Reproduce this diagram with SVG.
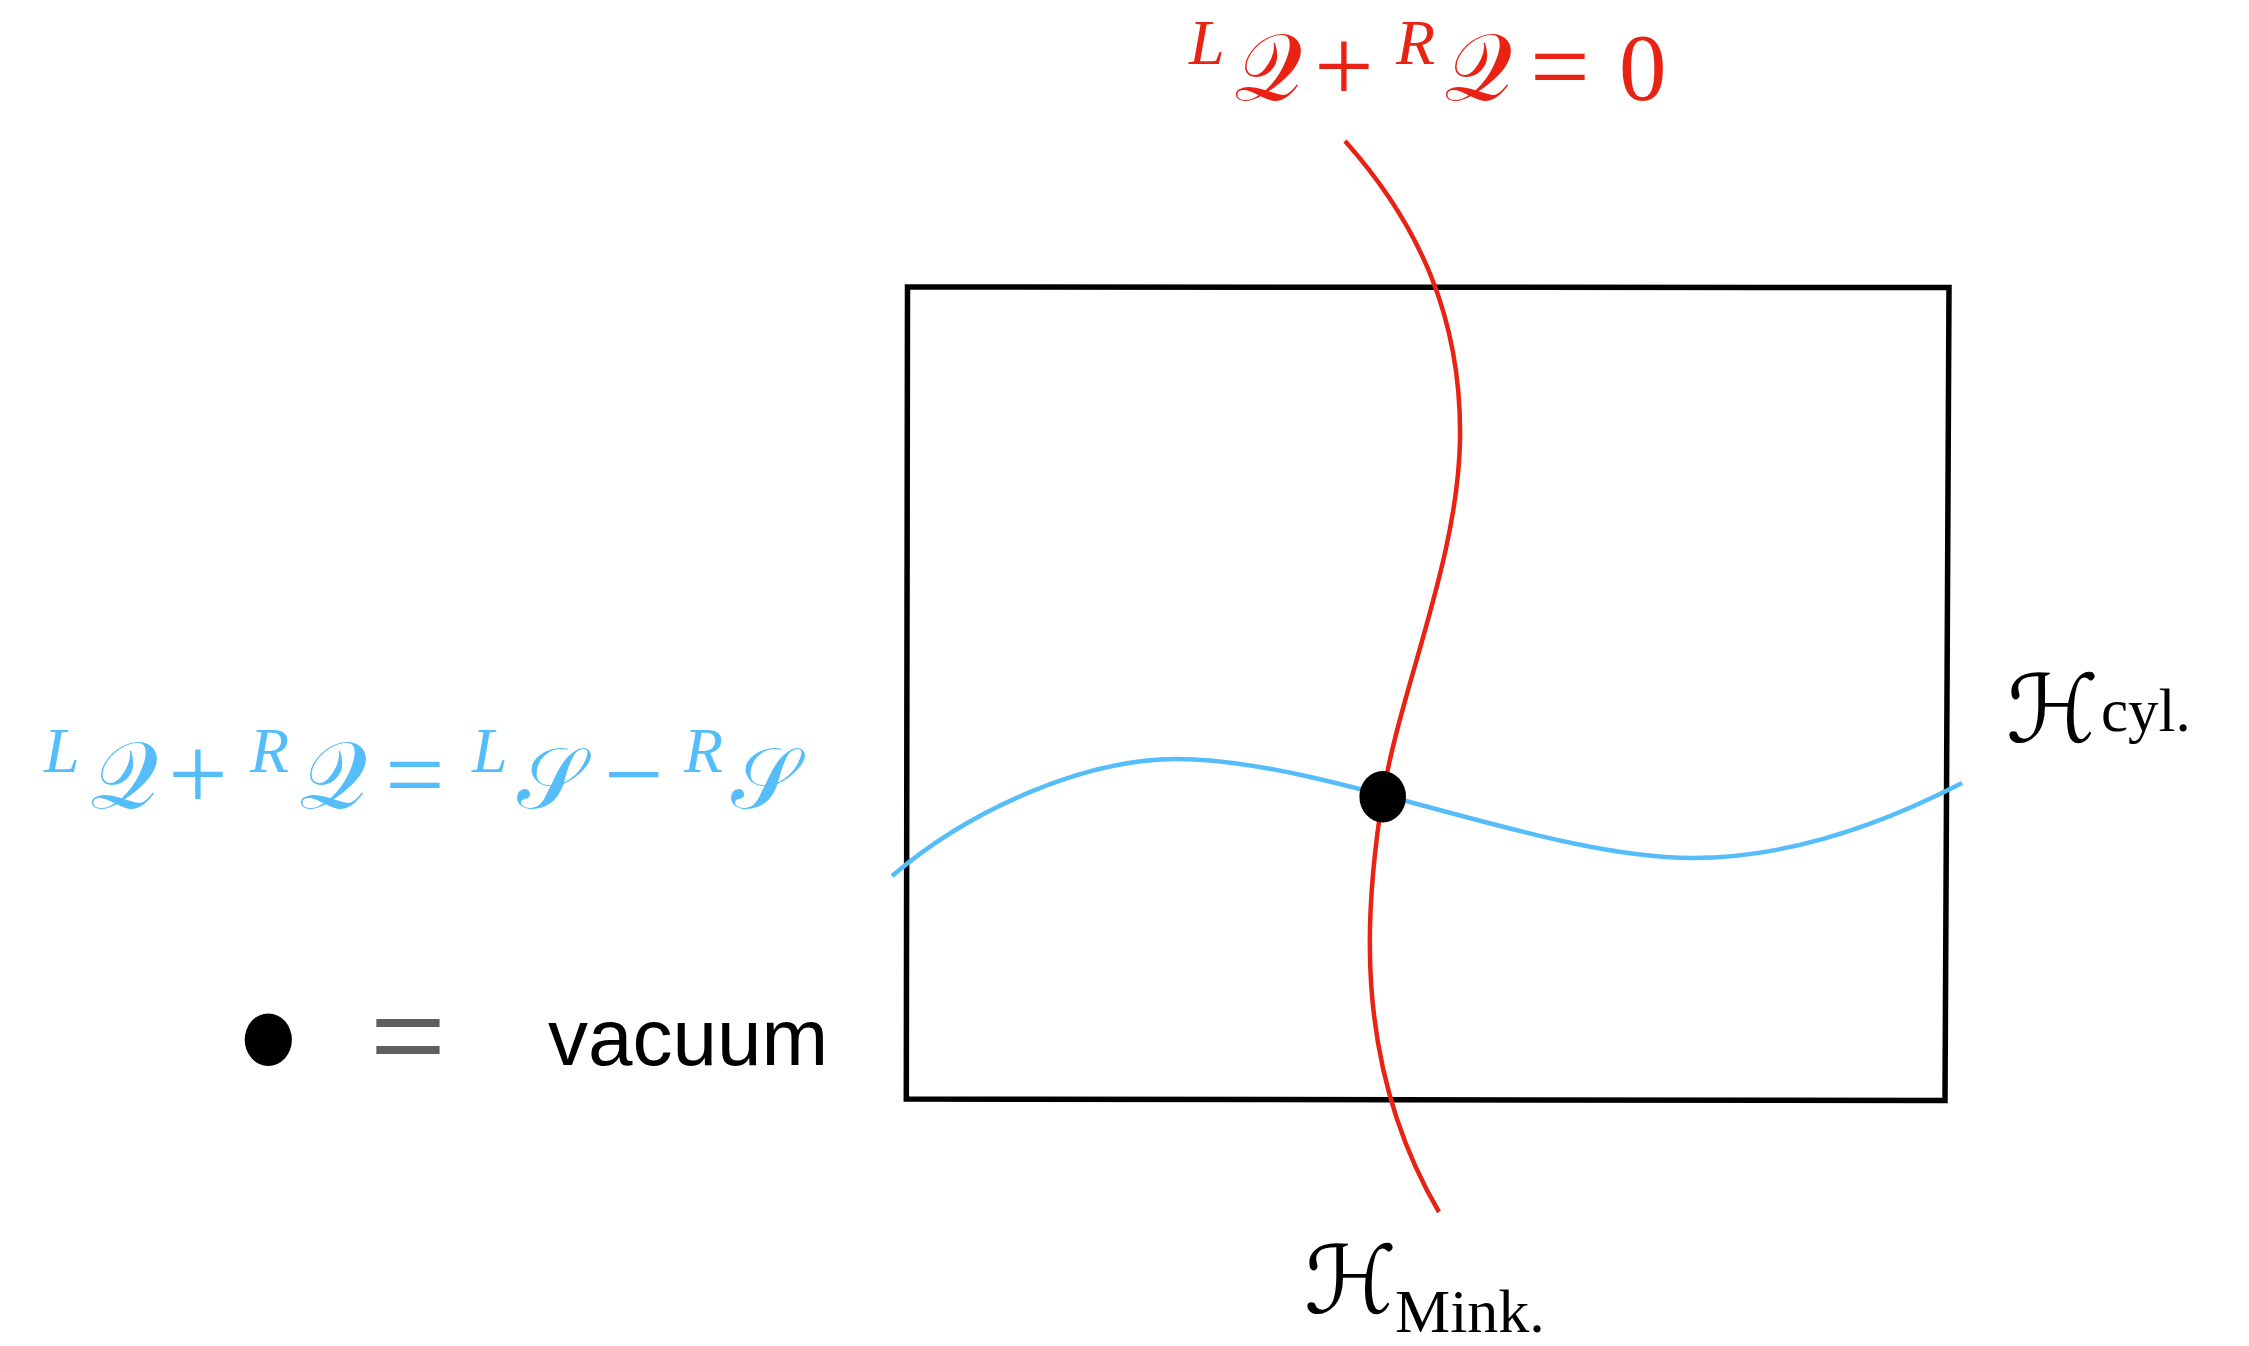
<svg xmlns="http://www.w3.org/2000/svg" width="2249" height="1346" viewBox="0 0 2249 1346">
<style>
.red{fill:#E92314;font-family:"Liberation Serif","DejaVu Serif",serif;font-size:95px}
.blue{fill:#55BEFA;font-family:"Liberation Serif","DejaVu Serif",serif;font-size:95px}
.blk{fill:#000;font-family:"Liberation Serif","DejaVu Serif",serif}
.scr{font-family:"DejaVu Serif","DejaVu Sans","Liberation Serif",serif}
.sup{font-style:italic;font-size:64px}
.op{font-size:106px}
.curve{fill:none;stroke-width:4.5;stroke-linecap:butt}
</style>
<rect width="2249" height="1346" fill="#fff"/>
<g id="frame">
<polygon points="907.5,287 1949,287.5 1945,1100.5 906.3,1099" fill="none" stroke="#000" stroke-width="5.5"/>
</g>
<g id="connectors">
<path class="curve" stroke="#E92314" d="M1345,141 C1420,225 1462,320 1460,440 C1458,560 1400,690 1383,795 C1366,900 1350,1060 1439,1212"/>
<path class="curve" stroke="#55BEFA" d="M892,876 C975,805 1090,759 1176,759 C1326,759 1542,858 1692,858 C1800,858 1900,815 1962,783"/>
</g>
<g id="vacuum-point">
<ellipse cx="1382.7" cy="796.7" rx="23.3" ry="25.7" fill="#000"/>
</g>
<g id="label-red">
<text class="red"><tspan class="sup" x="1189" y="64">L</tspan><tspan class="scr" x="1234" y="100">𝒬</tspan><tspan class="op" x="1314" y="102">+</tspan><tspan class="sup" x="1396" y="64">R</tspan><tspan class="scr" x="1444" y="100">𝒬</tspan><tspan class="op" x="1530" y="102">=</tspan><tspan x="1619" y="100">0</tspan></text>
</g>
<g id="label-blue">
<text class="blue"><tspan class="sup" x="44" y="772">L</tspan><tspan class="scr" x="90" y="808">𝒬</tspan><tspan class="op" x="168" y="810">+</tspan><tspan class="sup" x="250" y="772">R</tspan><tspan class="scr" x="299" y="808">𝒬</tspan><tspan class="op" x="385" y="810">=</tspan><tspan class="sup" x="472" y="772">L</tspan><tspan class="scr" x="517" y="808" font-size="86">𝒮</tspan><tspan class="op" x="604" y="810">−</tspan><tspan class="sup" x="684" y="772">R</tspan><tspan class="scr" x="731" y="808" font-size="86">𝒮</tspan></text>
</g>
<g id="label-cyl">
<text class="blk"><tspan class="scr" x="2006" y="742" font-size="94">ℋ</tspan><tspan x="2101" y="731" font-size="61">cyl.</tspan></text>
</g>
<g id="label-mink">
<text class="blk"><tspan class="scr" x="1304" y="1313" font-size="94">ℋ</tspan><tspan x="1395" y="1332" font-size="62">Mink.</tspan></text>
</g>
<g id="legend">
<ellipse cx="268.3" cy="1039.7" rx="23.6" ry="26.3" fill="#000"/>
<text x="370" y="1072" fill="#5f5f5f" font-family="Liberation Sans,Arial,sans-serif" font-size="110" textLength="76" lengthAdjust="spacingAndGlyphs">=</text>
<text x="548" y="1065" fill="#000" font-family="Liberation Sans,Arial,sans-serif" font-size="80">vacuum</text>
</g>
</svg>
